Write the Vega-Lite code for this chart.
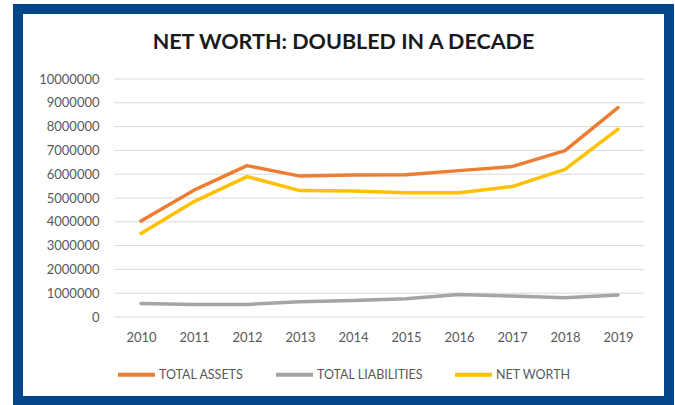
{
  "$schema": "https://vega.github.io/schema/vega-lite/v6.json",
  "autosize": "none",
  "width": 651,
  "height": 392,
  "padding": {"left": 18, "top": 9, "right": 6, "bottom": 4},
  "background": "white",
  "title": {
    "text": "NET WORTH: DOUBLED IN A DECADE",
    "anchor": "middle",
    "font": "Lato",
    "fontSize": 21.5,
    "fontWeight": "bold",
    "color": "#1a1a1a",
    "baseline": "alphabetic",
    "offset": -61
  },
  "config": {
    "view": {"stroke": "#03478A", "strokeWidth": 10, "fill": "white"}
  },
  "datasets": {
    "grid": [
      {"v": 0}, {"v": 1000000}, {"v": 2000000}, {"v": 3000000}, {"v": 4000000},
      {"v": 5000000}, {"v": 6000000}, {"v": 7000000}, {"v": 8000000}, {"v": 9000000}, {"v": 10000000}
    ],
    "series": [
      {"year": 2010, "series": "TOTAL ASSETS", "value": 4030000},
      {"year": 2011, "series": "TOTAL ASSETS", "value": 5330000},
      {"year": 2012, "series": "TOTAL ASSETS", "value": 6360000},
      {"year": 2013, "series": "TOTAL ASSETS", "value": 5920000},
      {"year": 2014, "series": "TOTAL ASSETS", "value": 5970000},
      {"year": 2015, "series": "TOTAL ASSETS", "value": 5980000},
      {"year": 2016, "series": "TOTAL ASSETS", "value": 6150000},
      {"year": 2017, "series": "TOTAL ASSETS", "value": 6320000},
      {"year": 2018, "series": "TOTAL ASSETS", "value": 6990000},
      {"year": 2019, "series": "TOTAL ASSETS", "value": 8800000},
      {"year": 2010, "series": "TOTAL LIABILITIES", "value": 570000},
      {"year": 2011, "series": "TOTAL LIABILITIES", "value": 530000},
      {"year": 2012, "series": "TOTAL LIABILITIES", "value": 530000},
      {"year": 2013, "series": "TOTAL LIABILITIES", "value": 640000},
      {"year": 2014, "series": "TOTAL LIABILITIES", "value": 690000},
      {"year": 2015, "series": "TOTAL LIABILITIES", "value": 770000},
      {"year": 2016, "series": "TOTAL LIABILITIES", "value": 950000},
      {"year": 2017, "series": "TOTAL LIABILITIES", "value": 880000},
      {"year": 2018, "series": "TOTAL LIABILITIES", "value": 810000},
      {"year": 2019, "series": "TOTAL LIABILITIES", "value": 920000},
      {"year": 2010, "series": "NET WORTH", "value": 3510000},
      {"year": 2011, "series": "NET WORTH", "value": 4850000},
      {"year": 2012, "series": "NET WORTH", "value": 5900000},
      {"year": 2013, "series": "NET WORTH", "value": 5310000},
      {"year": 2014, "series": "NET WORTH", "value": 5290000},
      {"year": 2015, "series": "NET WORTH", "value": 5220000},
      {"year": 2016, "series": "NET WORTH", "value": 5220000},
      {"year": 2017, "series": "NET WORTH", "value": 5480000},
      {"year": 2018, "series": "NET WORTH", "value": 6200000},
      {"year": 2019, "series": "NET WORTH", "value": 7890000}
    ]
  },
  "layer": [
    {
      "data": {"name": "grid"},
      "mark": {"type": "rule", "color": "#D9D9D9", "strokeWidth": 1},
      "encoding": {
        "y": {
          "field": "v", "type": "quantitative",
          "scale": {"domain": [0, 10000000], "range": [308, 70], "nice": false},
          "axis": {
            "values": [0, 1000000, 2000000, 3000000, 4000000, 5000000, 6000000, 7000000, 8000000, 9000000, 10000000],
            "format": "d", "title": null, "grid": false, "domain": false, "ticks": false,
            "labelFlush": false, "labelOverlap": false,
            "offset": -96, "labelPadding": 15, "labelFont": "Lato", "labelFontSize": 13,
            "labelColor": "#595959"
          }
        },
        "x": {"datum": 2009.5, "type": "quantitative"},
        "x2": {"datum": 2019.5}
      }
    },
    {
      "data": {"name": "series"},
      "mark": {"type": "line", "strokeWidth": 3.5, "strokeCap": "round", "strokeJoin": "round"},
      "encoding": {
        "x": {
          "field": "year", "type": "quantitative",
          "scale": {"domain": [2010, 2019], "range": [123, 600], "zero": false, "nice": false},
          "axis": {
            "values": [2010, 2011, 2012, 2013, 2014, 2015, 2016, 2017, 2018, 2019],
            "format": "d", "title": null, "grid": false, "domain": false, "ticks": false,
            "labelFlush": false, "labelOverlap": false,
            "offset": -81, "labelPadding": 11, "labelFont": "Lato", "labelFontSize": 13,
            "labelColor": "#595959"
          }
        },
        "y": {
          "field": "value", "type": "quantitative",
          "scale": {"domain": [0, 10000000], "range": [308, 70], "nice": false},
          "axis": {
            "values": [0, 1000000, 2000000, 3000000, 4000000, 5000000, 6000000, 7000000, 8000000, 9000000, 10000000],
            "format": "d", "title": null, "grid": false, "domain": false, "ticks": false,
            "labelFlush": false, "labelOverlap": false,
            "offset": -96, "labelPadding": 15, "labelFont": "Lato", "labelFontSize": 13,
            "labelColor": "#595959"
          }
        },
        "color": {
          "field": "series", "type": "nominal", "sort": null,
          "scale": {
            "domain": ["TOTAL ASSETS", "TOTAL LIABILITIES", "NET WORTH"],
            "range": ["#ED7D31", "#A5A5A5", "#FFC000"]
          },
          "legend": {
            "title": null, "orient": "none", "direction": "horizontal",
            "legendX": 98, "legendY": 345,
            "symbolType": "stroke", "symbolSize": 1369, "symbolStrokeWidth": 4,
            "labelFont": "Lato", "labelFontSize": 12.5, "labelColor": "#595959",
            "labelOffset": 2, "columnPadding": 24
          }
        }
      }
    }
  ]
}
